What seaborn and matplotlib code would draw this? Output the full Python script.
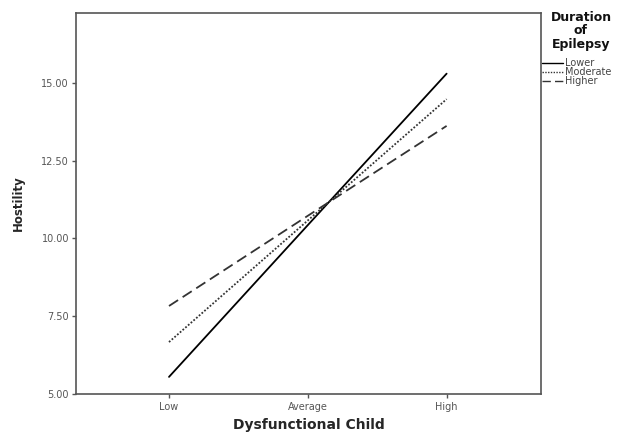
import pandas as pd
import matplotlib
matplotlib.use("Agg")
import matplotlib.pyplot as plt
import seaborn as sns

# Simple slopes
levels = ["Low", "Average", "High"]
groups = ["Lower", "Moderate", "Higher"]
lower = [5.55, 10.43, 15.30]
moderate = [6.67, 10.58, 14.48]
higher = [7.83, 10.73, 13.62]

rows = []
for g, vals in zip(groups, [lower, moderate, higher]):
    for i, v in enumerate(vals):
        rows.append({"x": i, "Hostility": v, "group": g})
df = pd.DataFrame(rows)

sns.set_style("white")
plt.rcParams["font.family"] = ["DejaVu Sans"]

fig = plt.figure(figsize=(6.18, 4.34), dpi=100)
ax = fig.add_axes([76 / 618, 1 - 394 / 434, (541 - 76) / 618, (394 - 13) / 434])

sns.lineplot(data=df, x="x", y="Hostility", hue="group", style="group",
             palette=["black", "#333333", "#333333"],
             dashes={"Lower": "", "Moderate": (1, 1), "Higher": (6, 3)},
             linewidth=1.3, ax=ax)

ax.set_xlim(-0.67, 2.68)
ax.set_ylim(5, 17.25)
ax.set_xticks(range(len(levels)))
ax.set_xticklabels(levels)
ax.set_yticks([5, 7.5, 10, 12.5, 15])
ax.set_yticklabels(["5.00", "7.50", "10.00", "12.50", "15.00"])
ax.tick_params(axis="both", labelsize=7, labelcolor="#555555", length=3,
               width=1, color="#555555", direction="out", pad=2,
               bottom=True, left=True)
ax.tick_params(axis="x", pad=3)
for s in ax.spines.values():
    s.set_color("#555555")
    s.set_linewidth(1.2)

ax.set_xlabel("Dysfunctional Child", fontsize=10, fontweight="bold")
ax.xaxis.set_label_coords(0.5, -0.062)
ax.set_ylabel("Hostility", fontsize=8.5, fontweight="bold")
ax.yaxis.set_label_coords(-0.11, 0.5)

# legend title drawn as figure text, entries below it
fig.text(581 / 618, 1 - 11 / 434, "Duration\nof\nEpilepsy", ha="center", va="top",
         fontsize=9, fontweight="bold", linespacing=1.05, color="#111111")
leg = ax.legend(frameon=False, loc="upper left",
                bbox_to_anchor=(542 / 618, 1 - 58 / 434),
                bbox_transform=fig.transFigure, fontsize=7,
                handlelength=2.2, handletextpad=0.2, labelspacing=-0.1,
                borderaxespad=0, borderpad=0)
for line in leg.get_lines():
    line.set_linewidth(1.0)
for t in leg.get_texts():
    t.set_color("#444444")

fig.savefig("out.png", dpi=100)
